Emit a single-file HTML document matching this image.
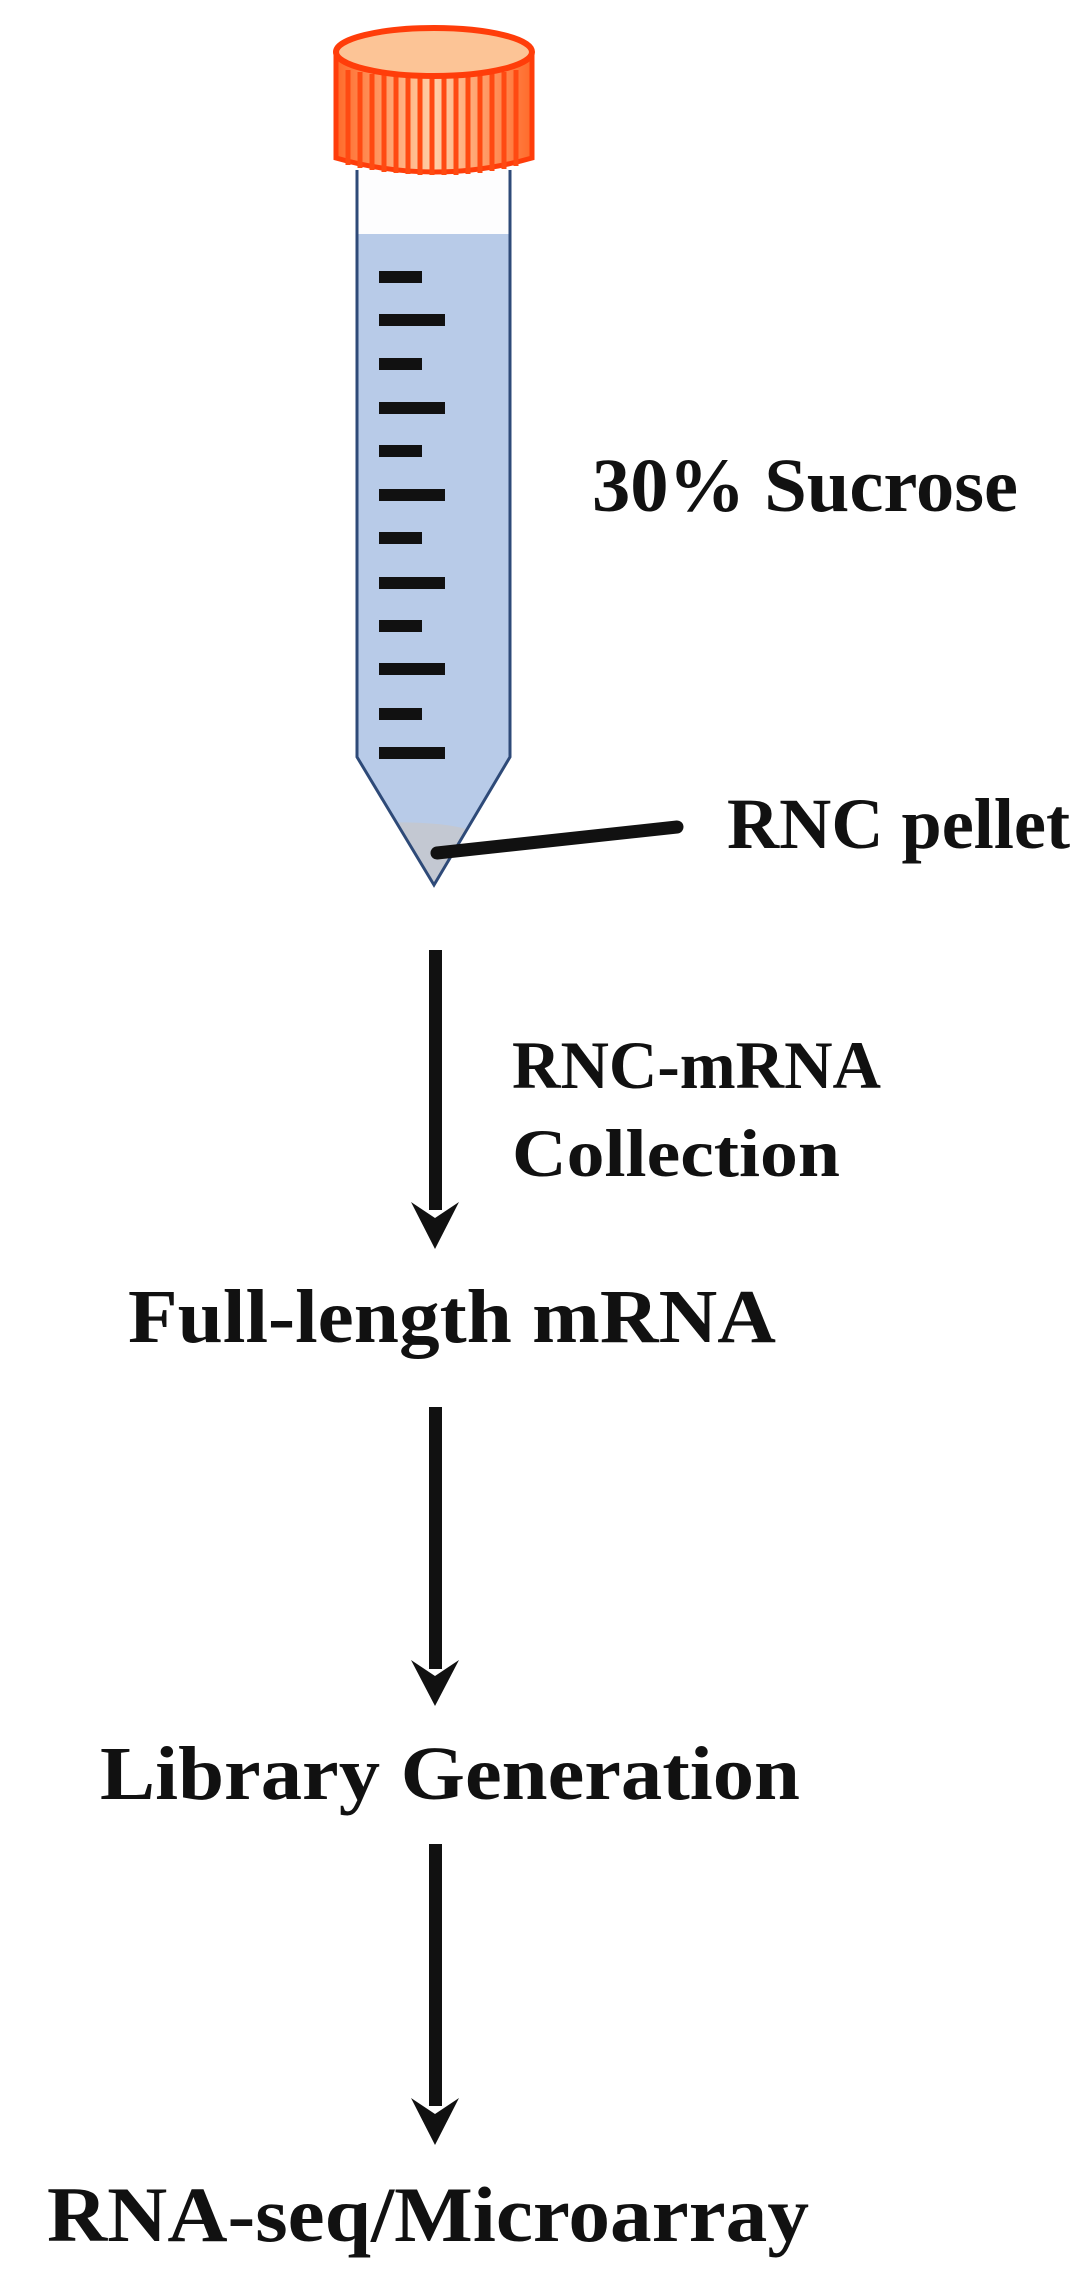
<!DOCTYPE html>
<html><head><meta charset="utf-8"><style>html,body{margin:0;padding:0;background:#fff}svg{display:block}text{font-family:"Liberation Serif",serif;font-weight:bold;fill:#111}</style></head>
<body>
<svg width="1080" height="2292" viewBox="0 0 1080 2292" xmlns="http://www.w3.org/2000/svg">
<defs>
<linearGradient id="cap" x1="0" x2="1">
<stop offset="0" stop-color="#ff6a2a"/><stop offset="0.5" stop-color="#ffd0a8"/><stop offset="1" stop-color="#ff6a2a"/>
</linearGradient>
<clipPath id="tube"><path d="M357,170 L357,757 L434,885 L510,757 L510,170 Z"/></clipPath>
</defs>
<!-- tube -->
<path d="M357,170 L357,757 L434,885 L510,757 L510,170 Z" fill="#fdfdfe"/>
<g clip-path="url(#tube)">
<rect x="350" y="234" width="170" height="660" fill="#b8cbe8"/>
<path d="M340,825 Q430,818 470,830 L470,900 L340,900 Z" fill="#c3c8d2"/>
</g>
<path d="M357,170 L357,757 L434,885 L510,757 L510,170" fill="none" stroke="#2e4a78" stroke-width="3"/>
<!-- ticks -->
<g fill="#111">
<rect x="379" y="271" width="43" height="12"/>
<rect x="379" y="314" width="66" height="12"/>
<rect x="379" y="358" width="43" height="12"/>
<rect x="379" y="402" width="66" height="12"/>
<rect x="379" y="445" width="43" height="12"/>
<rect x="379" y="489" width="66" height="12"/>
<rect x="379" y="532" width="43" height="12"/>
<rect x="379" y="577" width="66" height="12"/>
<rect x="379" y="620" width="43" height="12"/>
<rect x="379" y="663" width="66" height="12"/>
<rect x="379" y="708" width="43" height="12"/>
<rect x="379" y="747" width="66" height="12"/>
</g>
<!-- cap -->
<path d="M336,52 L336,158 Q434,186 532,158 L532,52 Z" fill="url(#cap)" stroke="#ff3d0a" stroke-width="5"/>
<g stroke="#ff4a12" stroke-width="5">
<line x1="348" y1="70" x2="348" y2="165"/><line x1="360" y1="72" x2="360" y2="168"/><line x1="372" y1="74" x2="372" y2="170"/><line x1="384" y1="75" x2="384" y2="172"/><line x1="396" y1="76" x2="396" y2="173"/><line x1="408" y1="77" x2="408" y2="174"/><line x1="420" y1="77" x2="420" y2="175"/><line x1="432" y1="77" x2="432" y2="175"/><line x1="444" y1="77" x2="444" y2="175"/><line x1="456" y1="77" x2="456" y2="175"/><line x1="468" y1="76" x2="468" y2="174"/><line x1="480" y1="75" x2="480" y2="173"/><line x1="492" y1="74" x2="492" y2="171"/><line x1="504" y1="72" x2="504" y2="169"/><line x1="516" y1="70" x2="516" y2="166"/>
</g>
<ellipse cx="434" cy="52" rx="98" ry="24" fill="#fcc496" stroke="#ff3d0a" stroke-width="6"/>
<!-- pellet line -->
<line x1="437" y1="853" x2="677" y2="827" stroke="#111" stroke-width="13" stroke-linecap="round"/>
<!-- labels -->
<text x="592" y="511" font-size="76" textLength="426" lengthAdjust="spacingAndGlyphs">30% Sucrose</text>
<text x="727" y="848" font-size="72" textLength="343" lengthAdjust="spacingAndGlyphs">RNC pellet</text>
<text x="512" y="1088" font-size="68" textLength="369" lengthAdjust="spacingAndGlyphs">RNC-mRNA</text>
<text x="512" y="1176" font-size="68" textLength="328" lengthAdjust="spacingAndGlyphs">Collection</text>
<text x="128" y="1342" font-size="76" textLength="648" lengthAdjust="spacingAndGlyphs">Full-length mRNA</text>
<text x="100" y="1799" font-size="76" textLength="700" lengthAdjust="spacingAndGlyphs">Library Generation</text>
<text x="47" y="2241" font-size="78" textLength="762" lengthAdjust="spacingAndGlyphs">RNA-seq/Microarray</text>
<!-- arrows -->
<g fill="#111">
<rect x="429" y="950" width="13" height="260"/>
<path d="M411,1202 L435,1218 L459,1202 L435,1249 Z"/>
<rect x="429" y="1407" width="13" height="262"/>
<path d="M411,1660 L435,1676 L459,1660 L435,1706 Z"/>
<rect x="429" y="1844" width="13" height="262"/>
<path d="M411,2098 L435,2114 L459,2098 L435,2145 Z"/>
</g>
</svg>
</body></html>
